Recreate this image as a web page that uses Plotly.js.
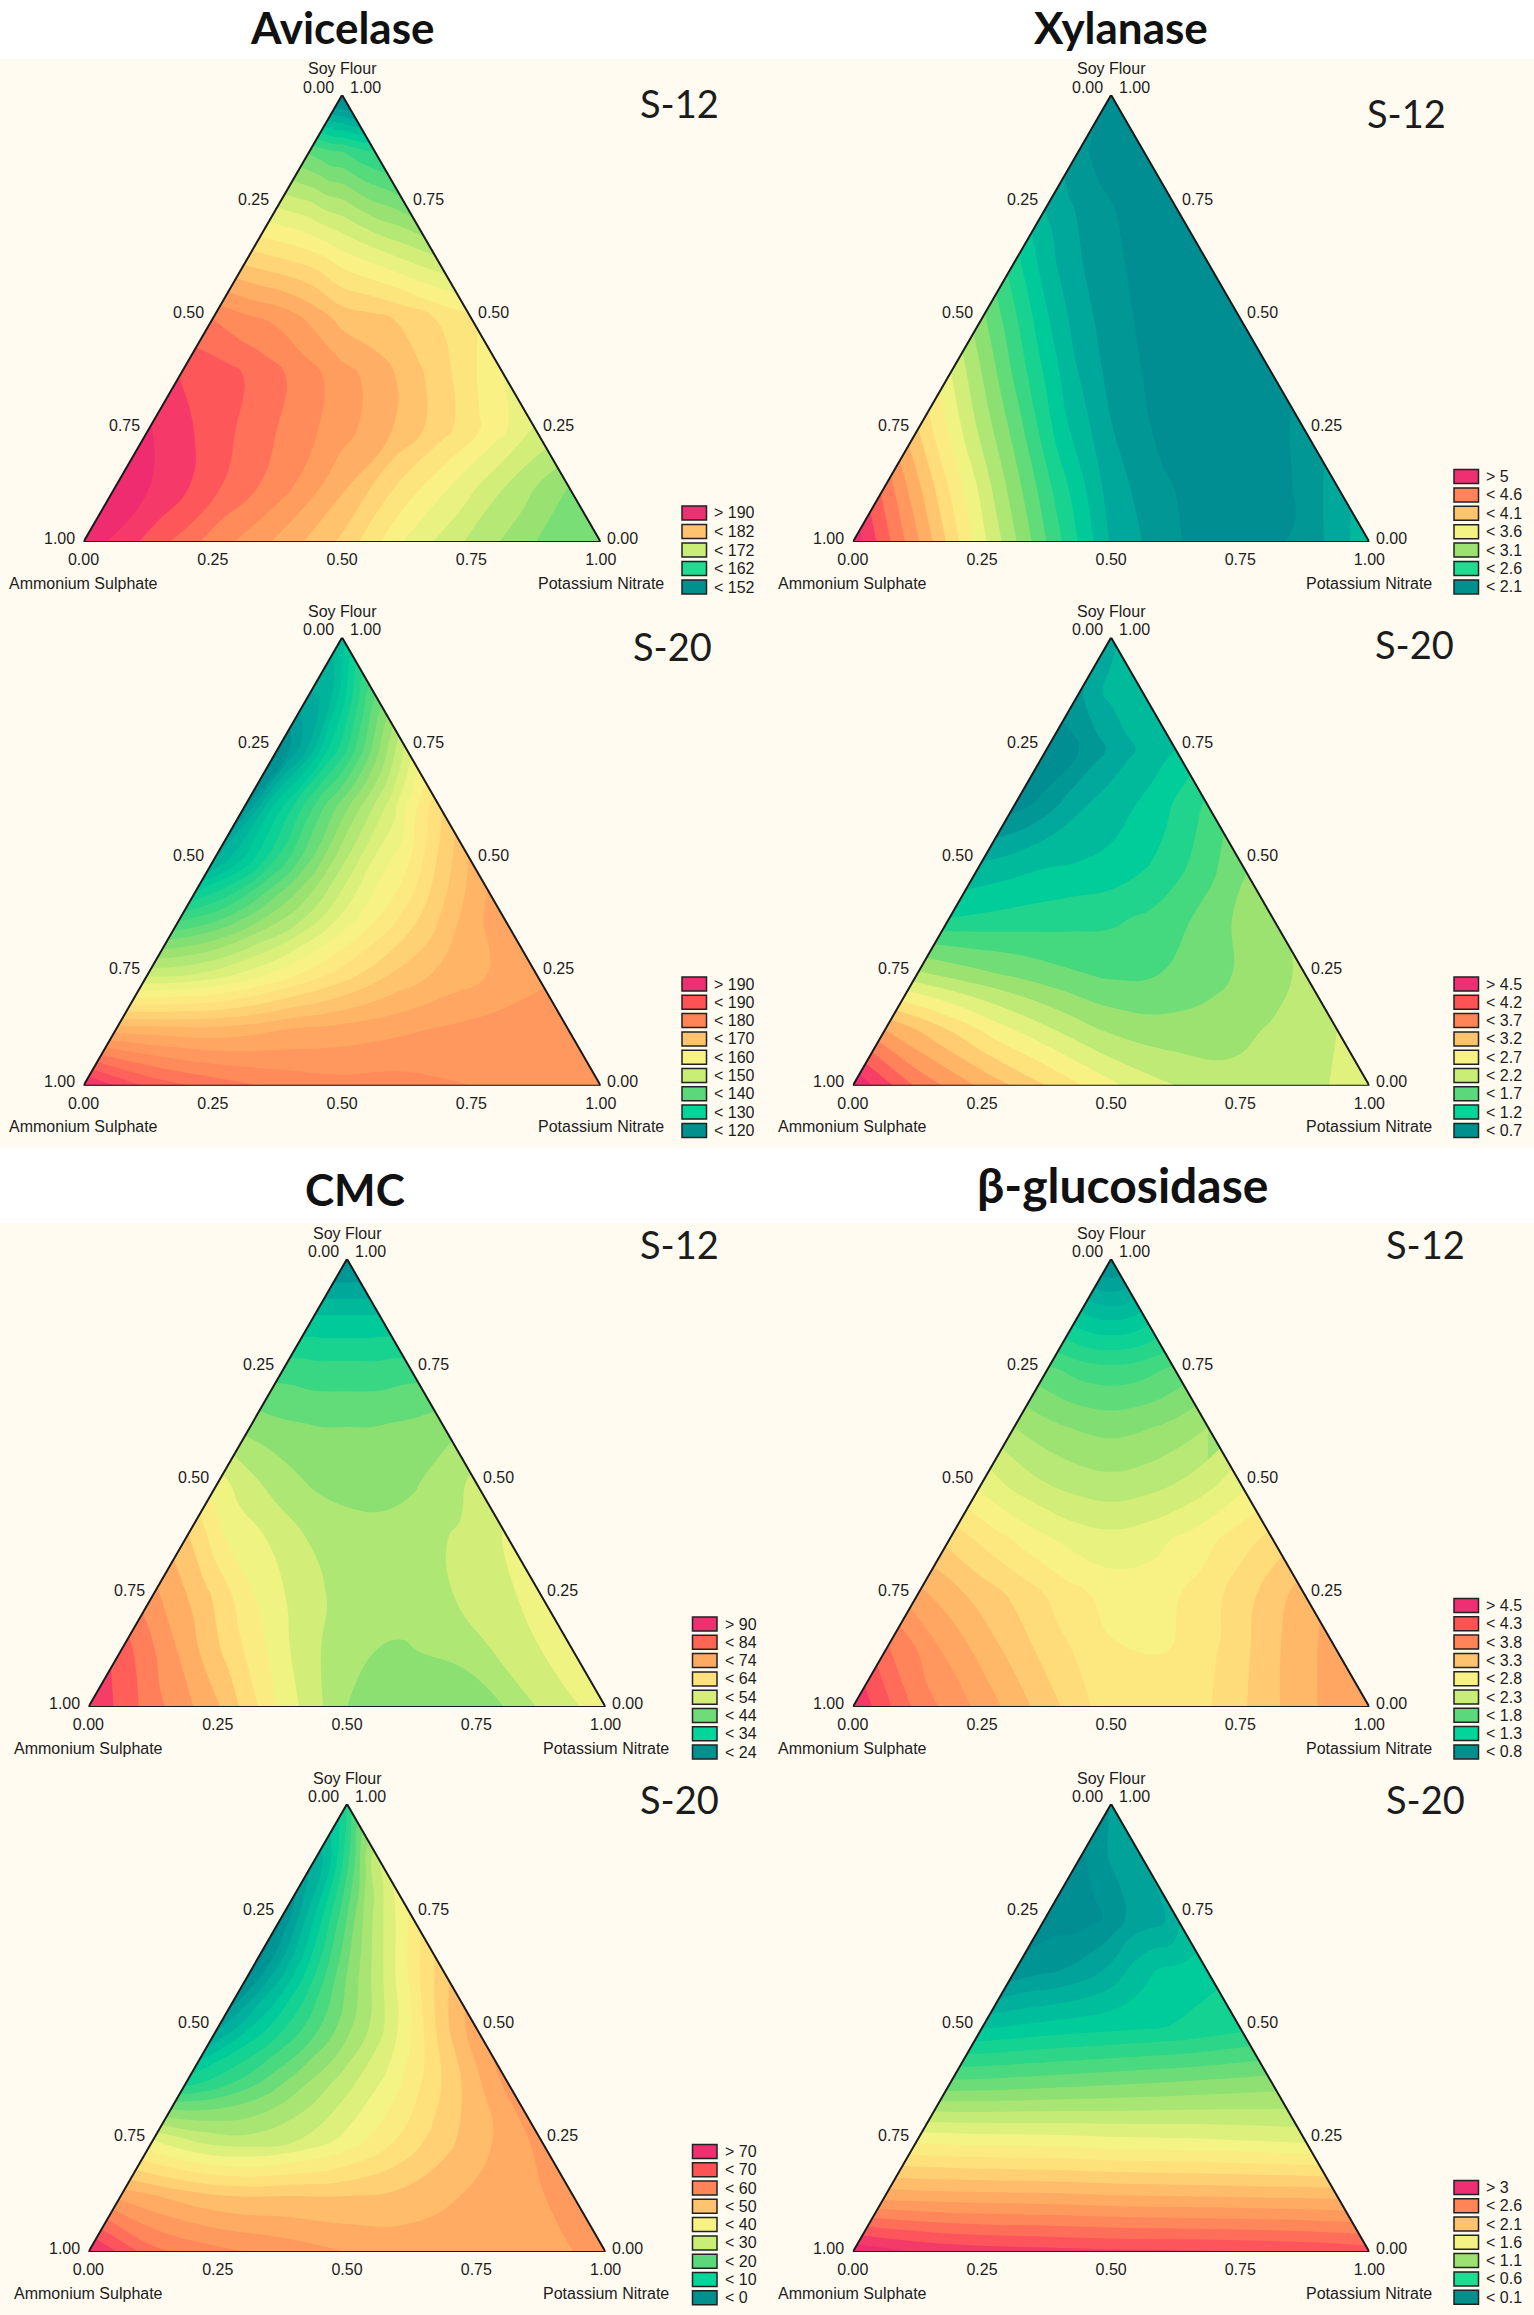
<!DOCTYPE html>
<html><head><meta charset="utf-8">
<script src="https://cdn.plot.ly/plotly-3.0.1.min.js"></script>
<style>html,body{margin:0;padding:0;background:#fff}</style></head>
<body><div id="chart" style="width:1534px;height:2315px"></div>
<script>
// Values: rows run from Soy Flour = 1.00 (apex) down to 0.00 (base), columns run left edge -> right edge.
const soyLevels = [1, .875, .75, .625, .5, .375, .25, .125, 0];
const acrossLevels = [0, .125, .25, .375, .5, .625, .75, .875, 1];
const tickValues = [0, .25, .5, .75, 1];
const tickLabels = ['0.00', '0.25', '0.50', '0.75', '1.00'];

const avicelaseS12 = [
 [150,150,150,150,150,150,150,150,150],
 [165,164.5,164,163.5,163.5,163,162.5,162,162],
 [172,171.5,171,170,169.5,168.5,167.5,167,166],
 [178.6,178,177.3,176.5,175,174,173,172,171],
 [185.7,184.4,183.6,182,180,179.4,178.5,177,176],
 [189,188.2,186.7,185,183,181.3,179,176.5,173.5],
 [191,189,187,185,183,180.7,178,175,172],
 [192,190,187,184.5,181,177,173.5,170,167],
 [192,188.6,185,182,178.5,173.5,170,167,165.5]];
const avicelaseS20 = [
 [132,132,132,132,132,132,132,132,132],
 [128,128,129,131,134,137,140,143,145],
 [120,124,129,135,139,144,149,154,159],
 [122,132,138,144,149,154,159,165,170],
 [128,134,141,148,155,161,165,171,176],
 [142,145,150,155,161,166,171,176,180],
 [157,158,161,165,169,173,176,178,180],
 [177,176.5,176.5,178,179,180,181,182,182],
 [196,190,187,185,184,184,183,182,182]];
const xylanaseS12 = [
 [2.09,2.09,2.09,2.09,2.09,2.09,2.09,2.09,2.09],
 [2.2,2.16,2.12,2.09,2.06,2.06,2.06,2.06,2.06],
 [2.43,2.34,2.28,2.2,2.16,2.11,2.06,2.06,2.06],
 [2.81,2.59,2.4,2.28,2.19,2.12,2.06,2.06,2.06],
 [3.24,2.93,2.62,2.37,2.22,2.12,2.06,2.06,2.06],
 [3.67,3.27,2.87,2.5,2.25,2.12,2.06,2.06,2.09],
 [4.11,3.61,3.15,2.65,2.31,2.12,2.06,2.06,2.19],
 [4.64,4.02,3.43,2.87,2.37,2.16,2.06,2.09,2.37],
 [5.1,4.42,3.7,3.05,2.43,2.16,2.06,2.19,2.56]];
const xylanaseS20 = [
 [1.16,1.16,1.16,1.16,1.16,1.16,1.16,1.16,1.16],
 [.96,1.04,1.12,1.2,1.24,1.28,1.32,1.36,1.4],
 [.64,.68,.8,.92,1.04,1.16,1.24,1.32,1.4],
 [.72,.84,1.04,1.2,1.32,1.4,1.52,1.68,1.84],
 [1.2,1.28,1.36,1.4,1.44,1.56,1.72,1.92,2.16],
 [1.6,1.64,1.68,1.72,1.76,1.84,2.0,2.2,2.36],
 [2.44,2.28,2.16,2.04,1.96,2.0,2.12,2.28,2.44],
 [3.6,3.24,2.88,2.6,2.36,2.28,2.32,2.44,2.6],
 [4.6,3.96,3.56,3.2,2.84,2.6,2.48,2.48,2.8]];
const cmcS12 = [
 [26,26,26,26,26,26,26,26,26],
 [38,38,38,38,38,38,38,38,38],
 [47,47,46.5,46.5,46.5,46.5,46.5,47,47],
 [54,53,52.5,52,52,52,52.5,53,54],
 [64,60,57,55,54,54,55,57,60],
 [74,66,62.5,59,57.5,57,58,60,63],
 [81,74.5,66.5,61,57.5,57.5,58.5,61,64],
 [89,80,71,62.5,56,55,57,60.5,65],
 [94,85,77,65,55.5,52,52.5,59.5,64.5]];
const cmcS20 = [
 [19,19,19,19,19,19,19,19,19],
 [8,10,13,17,21,25,30,34,37],
 [1,7,13,19,25,31,36,40,44],
 [0,7,14,21,28,34,40,46,51],
 [6,13,18.5,24,30,36,43,51,57],
 [18,21.5,26,31,36,41,47,53,59],
 [40,36,35,37,41,46,51,55,59],
 [57,54,52,52,52,53,55,57,59],
 [74,65,62,60,58,57,56.5,57,59]];
const glucosidaseS12 = [
 [.9,.9,.9,.9,.9,.9,.9,.9,.9],
 [1.6,1.55,1.52,1.5,1.5,1.5,1.52,1.55,1.6],
 [2.2,2.15,2.1,2.07,2.06,2.07,2.1,2.15,2.2],
 [2.6,2.52,2.46,2.42,2.4,2.42,2.46,2.52,2.6],
 [3.0,2.85,2.75,2.68,2.65,2.68,2.75,2.85,3.0],
 [3.45,3.28,3.12,3.0,2.95,3.0,3.1,3.25,3.4],
 [3.85,3.65,3.47,3.28,3.14,3.14,3.28,3.5,3.73],
 [4.3,3.95,3.67,3.41,3.22,3.2,3.37,3.65,3.88],
 [4.7,4.2,3.9,3.57,3.25,3.2,3.47,3.76,3.96]];
const glucosidaseS20 = [
 [.3,.3,.3,.3,.3,.3,.3,.3,.3],
 [.14,.17,.2,.27,.3,.33,.34,.36,.42],
 [.11,.11,.11,.14,.2,.3,.33,.36,.5],
 [.2,.27,.3,.36,.45,.58,.67,.7,.73],
 [.64,.67,.7,.72,.74,.76,.78,.82,.86],
 [1.17,1.18,1.2,1.22,1.24,1.26,1.28,1.3,1.32],
 [1.82,1.8,1.79,1.78,1.76,1.75,1.74,1.72,1.7],
 [2.4,2.38,2.37,2.36,2.34,2.33,2.32,2.31,2.3],
 [3.15,3.05,3.0,2.98,2.96,2.95,2.94,2.92,2.88]];

const colorStops = [[0,'#008E92'],[.08,'#00A89C'],[.2,'#00CF9A'],[.3,'#40D880'],[.4,'#90E070'],[.5,'#D2EE78'],[.57,'#F7F585'],[.65,'#FFE07C'],[.75,'#FFB466'],[.85,'#FF8A5A'],[.93,'#FF5A58'],[1,'#F02C70']];

const legend9Colors = ['#EE2F72','#FF5255','#FF8457','#FFC26F','#F7F283','#C9EE76','#5BD87C','#00D69A','#00918F'];
const legend7Colors = ['#EE2F72','#FF8457','#FFC26F','#F4F283','#9BE273','#1FDC90','#00918F'];
const legend8Colors = ['#EE2F72','#FF6555','#FFAA62','#FFE37A','#D4EE78','#6FDB79','#00D69A','#00918F'];
const legend5Colors = ['#EE2F72','#FFC26F','#C9EE76','#1FDC90','#00918F'];

const panels = [
 {name:'S-12', z:avicelaseS12,   lo:150, hi:192, size:1.7, x:[83.5,600.7], y:[95,542],     lab:[679,103],    lx:682,  ly:513,   dy:18.5, legend:['> 190','< 182','< 172','< 162','< 152'], colors:legend5Colors},
 {name:'S-20', z:avicelaseS20,   lo:118, hi:196, size:2.5, x:[83.5,600.7], y:[637.5,1085.7],lab:[672,646.4],lx:682, ly:984,   dy:18.3, legend:['> 190','< 190','< 180','< 170','< 160','< 150','< 140','< 130','< 120'], colors:legend9Colors},
 {name:'S-12', z:xylanaseS12,    lo:2,   hi:5.1, size:.15, x:[852.8,1369.4],y:[95,542],    lab:[1406.5,113],lx:1454,ly:476.5, dy:18.4, legend:['> 5','< 4.6','< 4.1','< 3.6','< 3.1','< 2.6','< 2.1'], colors:legend7Colors},
 {name:'S-20', z:xylanaseS20,    lo:.6,  hi:4.6, size:.2,  x:[852.8,1369.4],y:[637.5,1085.7],lab:[1414.7,643.6],lx:1454,ly:984, dy:18.3, legend:['> 4.5','< 4.2','< 3.7','< 3.2','< 2.7','< 2.2','< 1.7','< 1.2','< 0.7'], colors:legend9Colors},
 {name:'S-12', z:cmcS12,         lo:24,  hi:94,  size:3.5, x:[88.4,605.6], y:[1259,1707],  lab:[679,1243.8],lx:692.5,ly:1624, dy:18.3, legend:['> 90','< 84','< 74','< 64','< 54','< 44','< 34','< 24'], colors:legend8Colors},
 {name:'S-20', z:cmcS20,         lo:-2,  hi:74,  size:3,   x:[88.4,605.6], y:[1804,2252],  lab:[679,1798.7],lx:692.5,ly:2151.4,dy:18.3, legend:['> 70','< 70','< 60','< 50','< 40','< 30','< 20','< 10','< 0'], colors:legend9Colors},
 {name:'S-12', z:glucosidaseS12, lo:.8,  hi:4.7, size:.15, x:[852.8,1369.4],y:[1259,1707], lab:[1425.5,1243.8],lx:1454,ly:1605.5,dy:18.3, legend:['> 4.5','< 4.3','< 3.8','< 3.3','< 2.8','< 2.3','< 1.8','< 1.3','< 0.8'], colors:legend9Colors},
 {name:'S-20', z:glucosidaseS20, lo:.05, hi:3.15,size:.12, x:[852.8,1369.4],y:[1804,2252], lab:[1425.5,1798.7],lx:1454,ly:2187.4,dy:18.3, legend:['> 3','< 2.6','< 2.1','< 1.6','< 1.1','< 0.6','< 0.1'], colors:legend7Colors}
];
const titles = [['Avicelase',342,27,44],['Xylanase',1121,27,44],['CMC',354.6,1189,44],['β-glucosidase',1122,1184,48]];
const creamBands = [[59,1148],[1223,2315]];

const W = 1534, H = 2315, textSize = 16;
const px = v => v / W, py = v => 1 - v / H;
const traces = [], annotations = [], shapes = [];
const layout = {width:W, height:H, margin:{l:0,r:0,t:0,b:0}, paper_bgcolor:'#fff', plot_bgcolor:'rgba(0,0,0,0)', showlegend:false, font:{family:'Liberation Sans, Arial, sans-serif', color:'#1c1c1c'}};

creamBands.forEach(b => shapes.push({type:'rect', xref:'paper', yref:'paper', x0:0, x1:1, y0:py(b[0]), y1:py(b[1]), fillcolor:'#FFFBF1', line:{width:0}, layer:'below'}));

function note(text, x, y, size, extra) {
  annotations.push(Object.assign({text, xref:'paper', yref:'paper', x:px(x), y:py(y), xanchor:'center', yanchor:'middle', showarrow:false, font:{size, color:'#1c1c1c', family:'Liberation Sans, Arial, sans-serif'}}, extra || {}));
}

panels.forEach((p, i) => {
  const n = i + 1, ax = n === 1 ? '' : String(n);
  layout['xaxis' + ax] = {domain:[px(p.x[0]), px(p.x[1])], range:[0,1], anchor:'y' + ax, tickvals:tickValues, ticktext:tickLabels, tickfont:{size:textSize, color:'#1c1c1c'}, ticks:'outside', ticklen:3, tickcolor:'rgba(0,0,0,0)', showgrid:false, zeroline:false, showline:false, fixedrange:true};
  layout['yaxis' + ax] = {domain:[py(p.y[1]), py(p.y[0])], range:[0,1], anchor:'x' + ax, visible:false, fixedrange:true};
  const rows = soyLevels.slice().reverse();
  const zRows = p.z.slice().reverse();
  const xGrid = rows.map(s => acrossLevels.map(u => s / 2 + u * (1 - s)));
  const yGrid = rows.map(s => acrossLevels.map(() => s));
  const hide = {showgrid:false, showticklabels:'none', startline:false, endline:false, minorgridcount:0, smoothing:0, ticks:''};
  traces.push({type:'carpet', carpet:'c' + n, a:acrossLevels, b:rows, x:xGrid, y:yGrid, aaxis:hide, baxis:hide, xaxis:'x' + ax, yaxis:'y' + ax});
  traces.push({type:'contourcarpet', carpet:'c' + n, a:acrossLevels, b:rows, z:zRows, autocolorscale:false, colorscale:colorStops, zauto:false, zmin:p.lo, zmax:p.hi, showscale:false, autocontour:false, contours:{coloring:'fill', start:p.lo + p.size, end:p.hi, size:p.size, showlines:false}, line:{width:0, smoothing:1.3}, xaxis:'x' + ax, yaxis:'y' + ax});
  traces.push({type:'scatter', mode:'lines', x:[0,.5,1,0], y:[0,1,0,0], line:{color:'#1a1a1a', width:2}, cliponaxis:false, hoverinfo:'skip', xaxis:'x' + ax, yaxis:'y' + ax});

  const [xl, xr] = p.x, [yt, yb] = p.y, xm = (xl + xr) / 2, w = xr - xl, h = yb - yt;
  note('Soy Flour', xm, yt - 26, textSize);
  note('0.00', xm - 24, yt - 8, textSize);
  note('1.00', xm + 23, yt - 8, textSize);
  [[.25,'0.25','0.75',-7],[.5,'0.50','0.50',-6],[.75,'0.75','0.25',-5],[1,'1.00','0.00',-4]].forEach(([f, l, r, dy]) => {
    const y = yt + f * h;
    note(l, xm - f * w / 2 - 24, y + dy, textSize);
    note(r, xm + f * w / 2 + 22, y + dy, textSize);
  });
  note('Ammonium Sulphate', xl, yb + 41, textSize);
  note('Potassium Nitrate', xr, yb + 41, textSize);
  note(p.name, p.lab[0], p.lab[1], 38, {font:{size:38, color:'#1c1c1c', family:'Lato, sans-serif'}});
  p.legend.forEach((t, k) => {
    const cy = p.ly + k * p.dy;
    shapes.push({type:'rect', xref:'paper', yref:'paper', x0:px(p.lx), x1:px(p.lx + 24.5), y0:py(cy - 7), y1:py(cy + 7), fillcolor:p.colors[k], line:{color:'#222', width:1.5}});
    annotations.push({text:t, xref:'paper', yref:'paper', x:px(p.lx + 30), y:py(cy), xanchor:'left', yanchor:'middle', showarrow:false, font:{size:textSize, color:'#1c1c1c', family:'Liberation Sans, Arial, sans-serif'}});
  });
});
titles.forEach(t => note(t[0], t[1], t[2], t[3], {font:{size:t[3], color:'#111', family:'Lato, sans-serif', weight:700}}));
layout.annotations = annotations;
layout.shapes = shapes;
Plotly.newPlot('chart', traces, layout, {staticPlot:true, displayModeBar:false});
</script></body></html>
